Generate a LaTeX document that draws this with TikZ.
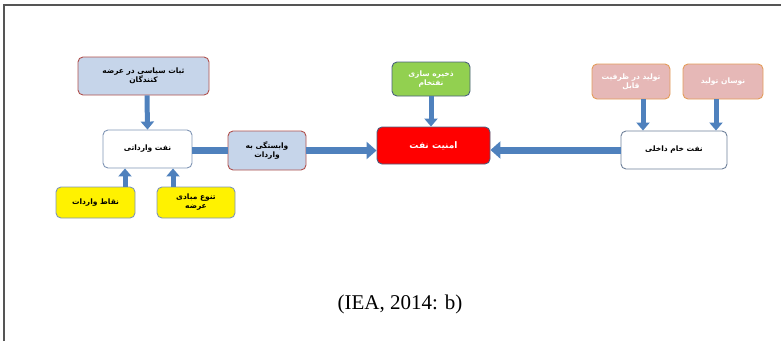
\documentclass[tikz,border=0pt]{standalone}
\usepackage{fontspec}
\setmainfont{Liberation Serif}
\newfontfamily\arfont[Script=Arabic]{DejaVu Sans}
\TeXXeTstate=1
\usetikzlibrary{arrows.meta}
\definecolor{arrblue}{HTML}{4F81BD}
\definecolor{lblue}{HTML}{C6D5EA}
\definecolor{dred}{HTML}{B0504D}
\definecolor{gblue}{HTML}{7F95B5}
\definecolor{dblue}{HTML}{4A6080}
\definecolor{lgreen}{HTML}{92D050}
\definecolor{pinkf}{HTML}{E6B8B7}
\definecolor{orangeb}{HTML}{E39D5B}
\definecolor{frame}{HTML}{555555}
\tikzset{
  box/.style={rounded corners=5pt, line width=0.9pt, align=center, inner sep=1pt,
     font=\arfont\bfseries\fontsize{7.5}{9}\selectfont},
  bluebox/.style={box, fill=lblue, draw=dred},
  whitebox/.style={box, fill=white, draw=gblue},
  yellowbox/.style={box, fill=yellow, draw=gblue},
  redbox/.style={box, fill=red, draw=dblue, text=white, font=\arfont\bfseries\fontsize{9}{10}\selectfont},
  greenbox/.style={box, fill=lgreen, draw=dblue, text=white},
  pinkbox/.style={box, fill=pinkf, draw=orangeb, text=white},
  varr/.style={draw=arrblue, line width=5pt, -{Triangle[width=13pt,length=8pt]}},
  harr/.style={draw=arrblue, line width=7pt, -{Triangle[width=17pt,length=10pt]}},
  hbar/.style={draw=arrblue, line width=7pt},
}
\begin{document}
\begin{tikzpicture}[x=1pt,y=-1pt]
\useasboundingbox (0,0) rectangle (781,341);
\draw[frame, line width=1.5pt] (4,341) -- (4,5) -- (781,5);

\node[bluebox, minimum width=131pt, minimum height=38pt] (pol) at (143.5,76)
  {\beginR ثبات سیاسی در عرضه\endR\\\beginR کنندگان\endR};
\node[whitebox, minimum width=89pt, minimum height=38pt] (imp) at (147.5,149)
  {\beginR نفت وارداتی\endR};
\node[yellowbox, minimum width=79pt, minimum height=31pt] (pts) at (95.5,202.5)
  {\beginR نقاط واردات\endR};
\node[yellowbox, minimum width=78pt, minimum height=31pt] (div) at (196,202.5)
  {\beginR تنوع مبادی\endR\\\beginR عرضه\endR};
\node[bluebox, minimum width=78pt, minimum height=39pt] (dep) at (267,150.5)
  {\beginR وابستگی به\endR\\\beginR واردات\endR};
\node[redbox, minimum width=113pt, minimum height=37pt] (sec) at (433.5,145.5)
  {\beginR امنیت نفت\endR};
\node[greenbox, minimum width=78pt, minimum height=34pt] (sto) at (431,79)
  {\beginR ذخیره سازی\endR\\\beginR نفتخام\endR};
\node[whitebox, draw=dblue!80, minimum width=106pt, minimum height=38pt] (dom) at (674,150)
  {\beginR نفت خام داخلی\endR};
\node[pinkbox, minimum width=78pt, minimum height=35pt] (cap) at (631,81.5)
  {\beginR تولید در ظرفیت\endR\\\beginR قابل\endR};
\node[pinkbox, minimum width=80pt, minimum height=35pt] (fluc) at (723,81.5)
  {\beginR نوسان تولید\endR};

\node[font=\fontsize{21}{24}\selectfont] (src) at (400,304) {(IEA, 2014: b)};

% connectors
\draw[varr] ([xshift=3.5pt]pol.south) -- (imp.north);
\draw[varr] ([xshift=29.5pt]pts.north) -- ([xshift=29.5pt]pts.north |- imp.south);
\draw[varr] ([xshift=-23pt]div.north) -- ([xshift=-23pt]div.north |- imp.south);
\draw[hbar] (imp.east |- dep.west) -- (dep.west);
\draw[harr] (dep.east) -- (dep.east -| sec.west);
\draw[harr] (dom.west) -- (dom.west -| sec.east);
\draw[varr] (sto.south) -- (sto.south |- sec.north);
\draw[varr] ([xshift=12pt]cap.south) -- ([xshift=12pt]cap.south |- dom.north);
\draw[varr] ([xshift=-7pt]fluc.south) -- ([xshift=-7pt]fluc.south |- dom.north);
\end{tikzpicture}
\end{document}
